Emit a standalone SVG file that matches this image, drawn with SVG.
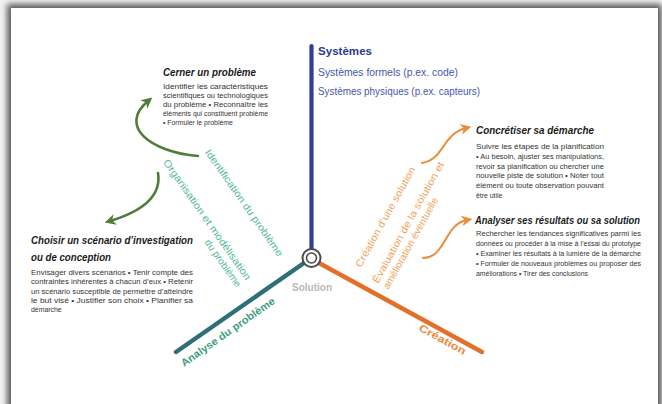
<svg xmlns="http://www.w3.org/2000/svg" width="662" height="404" viewBox="0 0 662 404">
<style>
.ttl{font-family:"Liberation Sans",Arial,sans-serif;font-weight:bold;font-style:italic;font-size:10px;fill:#1a1a1a}
.body{font-family:"Liberation Sans",Arial,sans-serif;font-size:6.9px;fill:#333333}
.sys{font-family:"Liberation Sans",Arial,sans-serif;font-size:10.4px;fill:#4657ad}
.gl{font-family:"Liberation Sans",Arial,sans-serif;font-size:10px;fill:#55b896}
.ol{font-family:"Liberation Sans",Arial,sans-serif;font-size:10px;fill:#f0a35a}
.ax{fill:none;stroke-linecap:round}
.ga{fill:none;stroke:#4f7d3c;stroke-width:2.6;stroke-linecap:round}
.oa{fill:none;stroke:#ea8e3e;stroke-width:2;stroke-linecap:round}
</style>
<defs>
<filter id="sh" x="-5%" y="-5%" width="110%" height="110%"><feGaussianBlur stdDeviation="3"/></filter>
<marker id="mg" viewBox="0 0 10 10" refX="5" refY="5" markerWidth="11" markerHeight="11" markerUnits="userSpaceOnUse" orient="auto"><path d="M0,0 L10,5 L0,10 L3,5 Z" fill="#4f7d3c"/></marker>
<marker id="mo" viewBox="0 0 10 10" refX="5" refY="5" markerWidth="11" markerHeight="11" markerUnits="userSpaceOnUse" orient="auto"><path d="M0,0 L10,5 L0,10 L3,5 Z" fill="#ea8e3e"/></marker>
</defs>
<rect x="0" y="0" width="662" height="404" fill="#f4f4f4"/>
<rect x="7" y="4" width="655" height="420" fill="#5a5a5a" filter="url(#sh)"/>
<rect x="11" y="8" width="647" height="400" fill="#ffffff"/>

<g id="connectors">
<line class="ax" x1="311.5" y1="249" x2="311.5" y2="46" stroke="#2f3e99" stroke-width="4.2"/>
<line class="ax" x1="304" y1="263" x2="176" y2="352" stroke="#2f6f78" stroke-width="4.5"/>
<line class="ax" x1="319" y1="263" x2="482" y2="352" stroke="#e2702a" stroke-width="4.5"/>
<path class="ga" d="M198,156 C150,152 118,126 148,101" marker-end="url(#mg)"/>
<path class="ga" d="M158,173 C162,198 140,212 110,221" marker-end="url(#mg)"/>
<path class="oa" d="M422,163 C444,160 442,134 466,128" marker-end="url(#mo)"/>
<path class="oa" d="M423,258 C446,258 444,224 467,220" marker-end="url(#mo)"/>
</g>

<g id="solution">
<circle cx="311.5" cy="258" r="9" fill="#fff" stroke="#4a4a4a" stroke-width="2"/>
<circle cx="311.5" cy="258" r="5" fill="#fff" stroke="#4a4a4a" stroke-width="1.6"/>
<text x="312" y="291" text-anchor="middle" font-family="Liberation Sans,Arial,sans-serif" font-size="10" font-weight="bold" fill="#b8b8b8">Solution</text>
</g>

<g id="systemes">
<text x="318" y="55" font-family="Liberation Sans,Arial,sans-serif" font-size="11" font-weight="bold" fill="#2c3a8c" textLength="54" lengthAdjust="spacingAndGlyphs">Systèmes</text>
<text class="sys" x="318" y="76" textLength="140" lengthAdjust="spacingAndGlyphs">Systèmes formels (p.ex. code)</text>
<text class="sys" x="318" y="95" textLength="162" lengthAdjust="spacingAndGlyphs">Systèmes physiques (p.ex. capteurs)</text>
</g>

<g id="cerner">
<text class="ttl" x="163" y="76" textLength="93" lengthAdjust="spacingAndGlyphs">Cerner un problème</text>
<text class="body" x="163" y="89" textLength="105" lengthAdjust="spacingAndGlyphs">Identifier les caractéristiques</text>
<text class="body" x="163" y="98" textLength="105" lengthAdjust="spacingAndGlyphs">scientifiques ou technologiques</text>
<text class="body" x="163" y="107" textLength="105" lengthAdjust="spacingAndGlyphs">du problème • Reconnaître les</text>
<text class="body" x="163" y="116" textLength="105" lengthAdjust="spacingAndGlyphs">éléments qui constituent problème</text>
<text class="body" x="163" y="125">• Formuler le problème</text>
</g>

<g id="choisir">
<text class="ttl" x="31" y="244" textLength="162" lengthAdjust="spacingAndGlyphs">Choisir un scénario d’investigation</text>
<text class="ttl" x="31" y="261" textLength="80" lengthAdjust="spacingAndGlyphs">ou de conception</text>
<text class="body" x="31" y="275" textLength="162" lengthAdjust="spacingAndGlyphs">Envisager divers scénarios • Tenir compte des</text>
<text class="body" x="31" y="284.3" textLength="162" lengthAdjust="spacingAndGlyphs">contraintes inhérentes à chacun d’eux • Retenir</text>
<text class="body" x="31" y="293.6" textLength="162" lengthAdjust="spacingAndGlyphs">un scénario susceptible de permettre d’atteindre</text>
<text class="body" x="31" y="302.9" textLength="162" lengthAdjust="spacingAndGlyphs">le but visé • Justifier son choix • Planifier sa</text>
<text class="body" x="31" y="312.2">démarche</text>
</g>

<g id="concretiser">
<text class="ttl" x="476" y="134" textLength="118" lengthAdjust="spacingAndGlyphs">Concrétiser sa démarche</text>
<text class="body" x="476" y="149" textLength="128" lengthAdjust="spacingAndGlyphs">Suivre les étapes de la planification</text>
<text class="body" x="476" y="158.8" textLength="128" lengthAdjust="spacingAndGlyphs">• Au besoin, ajuster ses manipulations,</text>
<text class="body" x="476" y="168.6" textLength="128" lengthAdjust="spacingAndGlyphs">revoir sa planification ou chercher une</text>
<text class="body" x="476" y="178.4" textLength="128" lengthAdjust="spacingAndGlyphs">nouvelle piste de solution • Noter tout</text>
<text class="body" x="476" y="188.2" textLength="128" lengthAdjust="spacingAndGlyphs">élément ou toute observation pouvant</text>
<text class="body" x="476" y="198">être utile</text>
</g>

<g id="analyser">
<text class="ttl" x="475" y="224" textLength="165" lengthAdjust="spacingAndGlyphs">Analyser ses résultats ou sa solution</text>
<text class="body" x="476" y="236" textLength="165" lengthAdjust="spacingAndGlyphs">Rechercher les tendances significatives parmi les</text>
<text class="body" x="476" y="246" textLength="165" lengthAdjust="spacingAndGlyphs">données ou procéder à la mise à l’essai du prototype</text>
<text class="body" x="476" y="256" textLength="165" lengthAdjust="spacingAndGlyphs">• Examiner les résultats à la lumière de la démarche</text>
<text class="body" x="476" y="266" textLength="165" lengthAdjust="spacingAndGlyphs">• Formuler de nouveaux problèmes ou proposer des</text>
<text class="body" x="476" y="275.5">améliorations • Tirer des conclusions</text>
</g>

<g id="analyse-label">
<text transform="translate(184,367) rotate(-35)" font-family="Liberation Sans,Arial,sans-serif" font-size="10.5" font-weight="bold" fill="#3e9d7d" textLength="112" lengthAdjust="spacingAndGlyphs">Analyse du problème</text>
</g>
<g id="creation-label">
<text transform="translate(418,330) rotate(28.8)" font-family="Liberation Sans,Arial,sans-serif" font-size="10.5" font-weight="bold" fill="#ec8a3c" textLength="52" lengthAdjust="spacingAndGlyphs">Création</text>
</g>

<g id="identification">
<text class="gl" transform="translate(278,257) rotate(55)" text-anchor="end" textLength="128" lengthAdjust="spacingAndGlyphs">Identification du problème</text>
</g>
<g id="organisation">
<text class="gl" transform="translate(246,281) rotate(55)" text-anchor="end"><tspan x="0" y="0" textLength="145" lengthAdjust="spacingAndGlyphs">Organisation et modélisation</tspan><tspan x="0" y="12">du problème</tspan></text>
</g>

<g id="creation-solution">
<text class="ol" transform="translate(361,268) rotate(-61)" textLength="113" lengthAdjust="spacingAndGlyphs">Création d’une solution</text>
</g>
<g id="evaluation">
<text class="ol" transform="translate(378,284) rotate(-61)"><tspan x="0" y="0" textLength="137" lengthAdjust="spacingAndGlyphs">Évaluation de la solution et</tspan><tspan x="0" y="12">amélioration éventuelle</tspan></text>
</g>
</svg>
